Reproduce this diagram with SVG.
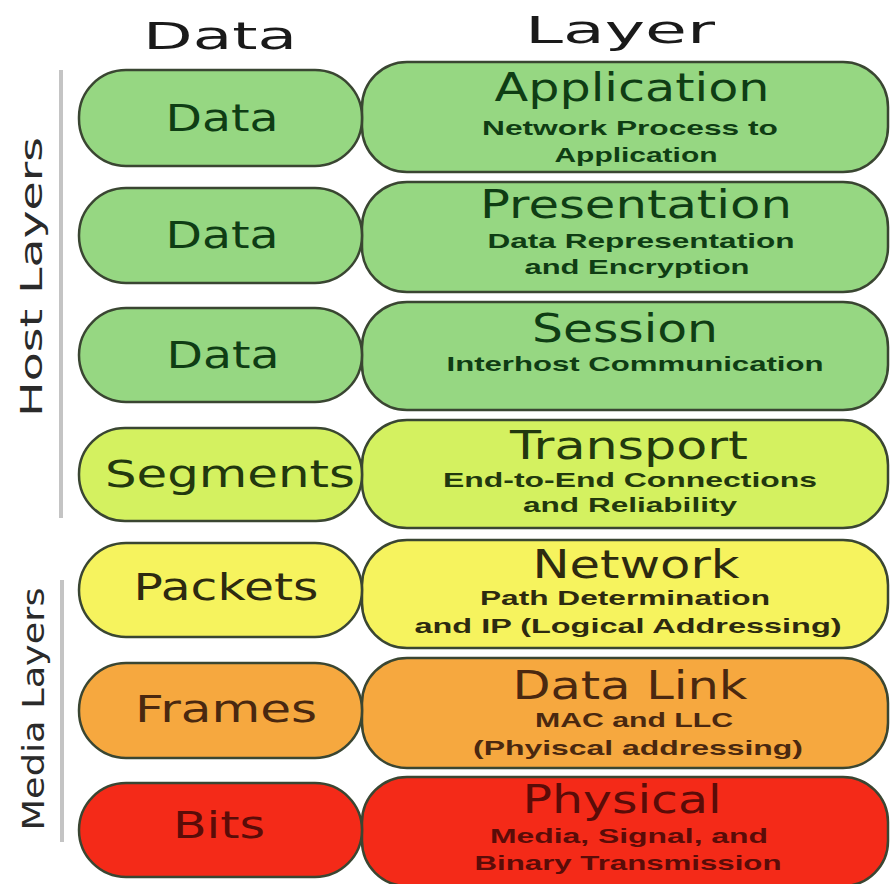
<svg xmlns="http://www.w3.org/2000/svg" width="890" height="884" viewBox="0 0 890 884">
<style>
.box{stroke:#3a4632;stroke-width:2.5}
.g{fill:#96d782}.l{fill:#d4f160}.y{fill:#f6f35e}.o{fill:#f6a83f}.r{fill:#f42a18}
.hd{font-family:"DejaVu Sans",Verdana,sans-serif;font-size:38px;fill:#1a1a1a;text-anchor:middle}
.lab{font-family:"DejaVu Sans",Verdana,sans-serif;font-size:38px;text-anchor:middle}
.ttl{font-family:"DejaVu Sans",Verdana,sans-serif;font-size:39px;text-anchor:middle}
.sub{font-family:"Liberation Sans",Arial,sans-serif;font-size:21px;font-weight:bold;text-anchor:middle}
.side{font-family:"DejaVu Sans",Verdana,sans-serif;font-size:31px;fill:#2a2a2a;text-anchor:middle}
.tg{fill:#0f3d14}.tl{fill:#22380e}.ty{fill:#2d2a10}.to{fill:#4a2810}.tr{fill:#5a0c08}
.bar{stroke:#c4c4c4;stroke-width:4}
</style>
<rect width="890" height="884" fill="#ffffff"/>
<g id="headers">
<text class="hd" x="220" y="49" textLength="154" lengthAdjust="spacingAndGlyphs">Data</text>
<text class="hd" x="620" y="43" textLength="190" lengthAdjust="spacingAndGlyphs">Layer</text>
</g>
<g id="groups">
<line class="bar" x1="61" y1="70" x2="61" y2="518"/>
<line class="bar" x1="62" y1="580" x2="62" y2="842"/>
<text class="side" transform="translate(42,277) rotate(-90)" x="0" y="0" textLength="280" lengthAdjust="spacingAndGlyphs">Host Layers</text>
<text class="side" transform="translate(44,709) rotate(-90)" x="0" y="0" textLength="243" lengthAdjust="spacingAndGlyphs">Media Layers</text>
</g>
<g id="connectors"></g>
<g id="application">
<rect class="box g" x="362" y="62" width="526" height="110" rx="45"/>
<rect class="box g" x="79" y="70" width="283" height="96" rx="47"/>
<text class="lab tg" x="222" y="131" textLength="113" lengthAdjust="spacingAndGlyphs">Data</text>
<text class="ttl tg" x="632" y="101" textLength="275" lengthAdjust="spacingAndGlyphs">Application</text>
<text class="sub tg" x="630" y="135" textLength="296" lengthAdjust="spacingAndGlyphs">Network Process to</text>
<text class="sub tg" x="636" y="162" textLength="163" lengthAdjust="spacingAndGlyphs">Application</text>
</g>
<g id="presentation">
<rect class="box g" x="362" y="182" width="526" height="110" rx="45"/>
<rect class="box g" x="79" y="188" width="283" height="95" rx="47"/>
<text class="lab tg" x="222" y="248" textLength="113" lengthAdjust="spacingAndGlyphs">Data</text>
<text class="ttl tg" x="636" y="218" textLength="312" lengthAdjust="spacingAndGlyphs">Presentation</text>
<text class="sub tg" x="641" y="248" textLength="307" lengthAdjust="spacingAndGlyphs">Data Representation</text>
<text class="sub tg" x="637" y="274" textLength="225" lengthAdjust="spacingAndGlyphs">and Encryption</text>
</g>
<g id="session">
<rect class="box g" x="362" y="302" width="526" height="108" rx="45"/>
<rect class="box g" x="79" y="308" width="283" height="94" rx="47"/>
<text class="lab tg" x="223" y="368" textLength="113" lengthAdjust="spacingAndGlyphs">Data</text>
<text class="ttl tg" x="625" y="342" textLength="186" lengthAdjust="spacingAndGlyphs">Session</text>
<text class="sub tg" x="635" y="371" textLength="377" lengthAdjust="spacingAndGlyphs">Interhost Communication</text>
</g>
<g id="transport">
<rect class="box l" x="362" y="420" width="526" height="108" rx="45"/>
<rect class="box l" x="79" y="428" width="283" height="93" rx="46"/>
<text class="lab tl" x="230" y="487" textLength="250" lengthAdjust="spacingAndGlyphs">Segments</text>
<text class="ttl tl" x="629" y="459" textLength="238" lengthAdjust="spacingAndGlyphs">Transport</text>
<text class="sub tl" x="630" y="487" textLength="374" lengthAdjust="spacingAndGlyphs">End-to-End Connections</text>
<text class="sub tl" x="630" y="512" textLength="214" lengthAdjust="spacingAndGlyphs">and Reliability</text>
</g>
<g id="network">
<rect class="box y" x="362" y="540" width="526" height="108" rx="45"/>
<rect class="box y" x="79" y="543" width="283" height="94" rx="47"/>
<text class="lab ty" x="226" y="600" textLength="185" lengthAdjust="spacingAndGlyphs">Packets</text>
<text class="ttl ty" x="636" y="578" textLength="207" lengthAdjust="spacingAndGlyphs">Network</text>
<text class="sub ty" x="625" y="605" textLength="290" lengthAdjust="spacingAndGlyphs">Path Determination</text>
<text class="sub ty" x="628" y="633" textLength="427" lengthAdjust="spacingAndGlyphs">and IP (Logical Addressing)</text>
</g>
<g id="datalink">
<rect class="box o" x="362" y="658" width="526" height="110" rx="45"/>
<rect class="box o" x="79" y="663" width="283" height="95" rx="47"/>
<text class="lab to" x="226" y="722" textLength="182" lengthAdjust="spacingAndGlyphs">Frames</text>
<text class="ttl to" x="630" y="699" textLength="235" lengthAdjust="spacingAndGlyphs">Data Link</text>
<text class="sub to" x="634" y="727" textLength="198" lengthAdjust="spacingAndGlyphs">MAC and LLC</text>
<text class="sub to" x="638" y="755" textLength="330" lengthAdjust="spacingAndGlyphs">(Phyiscal addressing)</text>
</g>
<g id="physical">
<rect class="box r" x="362" y="777" width="526" height="109" rx="45"/>
<rect class="box r" x="79" y="783" width="283" height="94" rx="47"/>
<text class="lab tr" x="219" y="838" textLength="92" lengthAdjust="spacingAndGlyphs">Bits</text>
<text class="ttl tr" x="622" y="813" textLength="199" lengthAdjust="spacingAndGlyphs">Physical</text>
<text class="sub tr" x="629" y="843" textLength="278" lengthAdjust="spacingAndGlyphs">Media, Signal, and</text>
<text class="sub tr" x="628" y="870" textLength="307" lengthAdjust="spacingAndGlyphs">Binary Transmission</text>
</g>
</svg>
